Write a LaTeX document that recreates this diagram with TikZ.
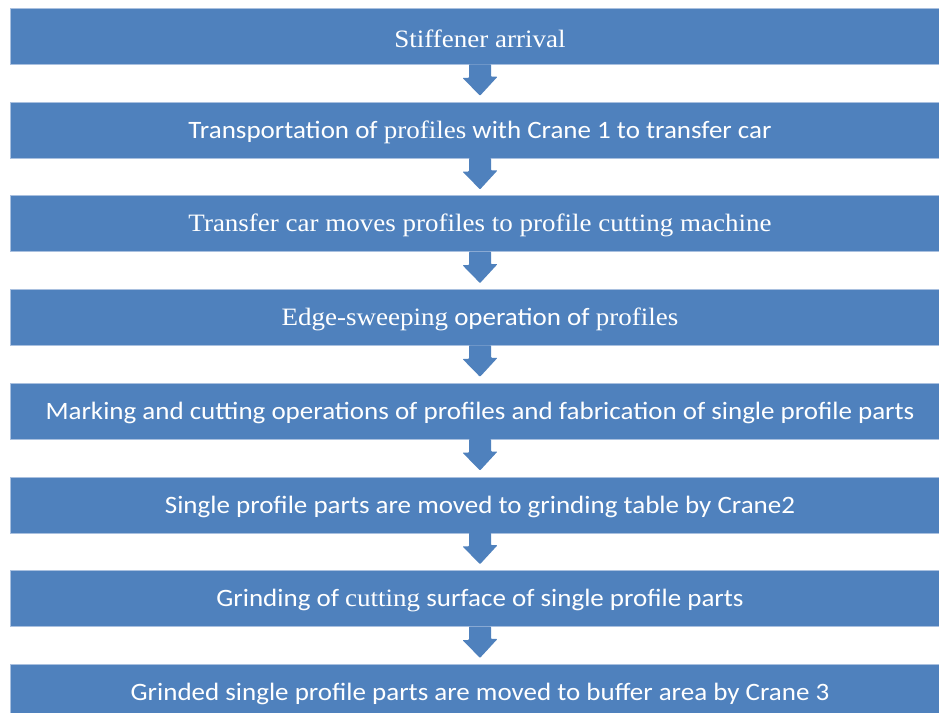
\documentclass[tikz,border=0pt]{standalone}
\usepackage{fontspec}
\setmainfont{Carlito}
\newfontfamily\serifpart{Liberation Serif}
\newcommand{\sr}[1]{{\serifpart #1}}
\newcommand{\wide}[1]{\raisebox{-2pt}[\height][\depth]{\scalebox{1.08}[1]{#1}}}
\definecolor{stepblue}{HTML}{4F81BD}
\definecolor{stepedge}{HTML}{A9C0DF}
\begin{document}
\begin{tikzpicture}[x=1pt,y=1pt,
  stepbox/.style={fill=stepblue, draw=stepedge, line width=0.8pt,
    minimum width=940pt, minimum height=56pt, inner sep=0pt,
    text=white, font=\fontsize{25}{30}\selectfont, anchor=north},
  flowarrow/.style={fill=stepblue, rounded corners=0.8pt}]
\useasboundingbox (0,0) rectangle (939,-712);
\fill[white] (0,0) rectangle (939,-712);
% process steps, top to bottom
\node[stepbox] (s1) at (480,-8.0)   {\wide{\sr{Stiffener arrival}}};
\node[stepbox] (s2) at (480,-101.7) {\wide{Transportation of \sr{profiles} with Crane 1 to transfer car}};
\node[stepbox] (s3) at (480,-195.4) {\wide{\sr{Transfer car moves profiles to profile cutting machine}}};
\node[stepbox] (s4) at (480,-289.1) {\wide{\sr{Edge-sweeping} operation of \sr{profiles}}};
\node[stepbox] (s5) at (480,-382.8) {\wide{Marking and cutting operations of profiles and fabrication of single profile parts}};
\node[stepbox] (s6) at (480,-476.5) {\wide{Single profile parts are moved to grinding table by Crane2}};
\node[stepbox] (s7) at (480,-570.2) {\wide{Grinding of \sr{cutting} surface of single profile parts}};
\node[stepbox] (s8) at (480,-663.9) {\wide{Grinded single profile parts are moved to buffer area by Crane 3}};
% block arrows between consecutive steps
\foreach \a/\b in {s1/s2,s2/s3,s3/s4,s4/s5,s5/s6,s6/s7,s7/s8}{
  \fill[flowarrow] ([xshift=-11pt,yshift=0.5pt]\a.south) -- ++(0,-13.5) -- ++(-6.5,0)
    -- ([yshift=6pt]\b.north) -- ([xshift=17.5pt,yshift=25pt]\b.north)
    -- ++(-6.5,0) -- ([xshift=11pt,yshift=0.5pt]\a.south) -- cycle;
}
\end{tikzpicture}
\end{document}
